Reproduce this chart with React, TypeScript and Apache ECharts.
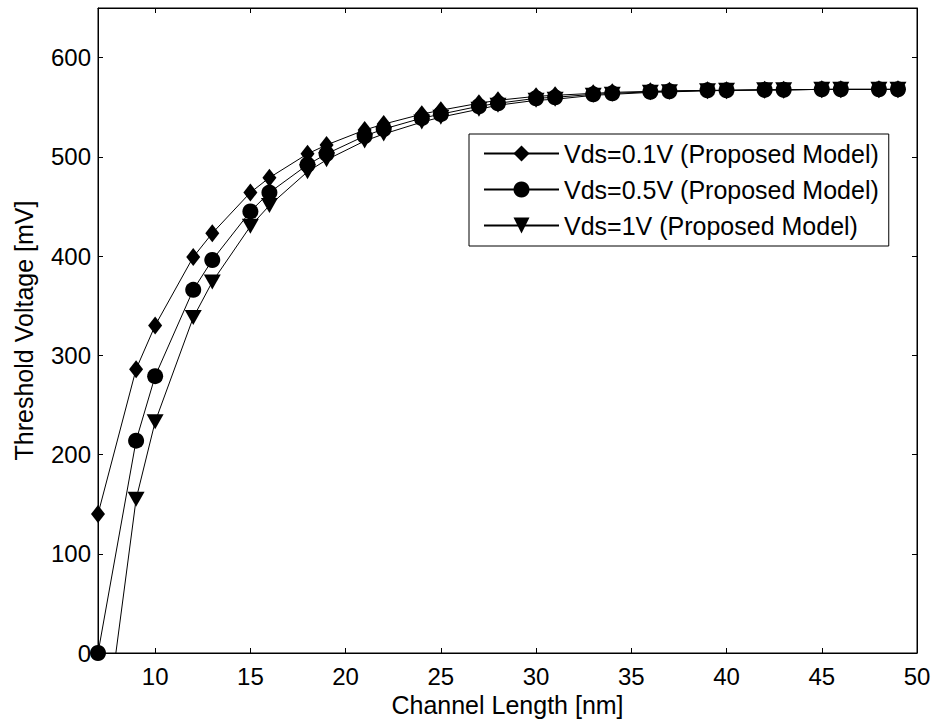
import React, { useEffect, useRef } from "react";
import * as echarts from "echarts";

const channelLength = [7, 9, 10, 12, 13, 15, 16, 18, 19, 21, 22, 24, 25, 27, 28, 30, 31, 33, 34, 36, 37, 39, 40, 42, 43, 45, 46, 48, 49];
const vds01 = [140, 286, 330, 399, 423, 464, 479, 503, 512, 527, 533, 543, 547, 554, 557, 561, 562, 564, 565, 566, 566.5, 567, 567, 567.5, 567.5, 568, 568, 568, 568];
const vds05 = [0, 214, 279, 366, 396, 445, 464, 492, 503, 521, 528, 539, 543, 551, 554, 559, 560, 563, 564, 565.5, 566, 567, 567, 567.5, 567.5, 568, 568, 568, 568];
const vds1 = [-137, 155, 233, 338, 374, 430, 451, 485, 497, 516, 523, 535, 540, 548, 552, 557, 558, 562, 563, 565, 565.5, 566.5, 567, 567.5, 567.5, 568, 568, 568, 568];

const xTicks = [10, 15, 20, 25, 30, 35, 40, 45, 50];
const yTicks = [0, 100, 200, 300, 400, 500, 600];
const seriesNames = ["Vds=0.1V (Proposed Model)", "Vds=0.5V (Proposed Model)", "Vds=1V (Proposed Model)"];

const FONT = "'Liberation Sans', Arial, sans-serif";

export default function App() {
  const ref = useRef<HTMLDivElement>(null);
  useEffect(() => {
    if (!ref.current) return;
    const chart = echarts.init(ref.current, undefined, { renderer: "svg" });
    const mk = (vals: number[]) => channelLength.map((x, i) => [x, vals[i]]);
    const lineBase = {
      type: "line",
      clip: true,
      lineStyle: { color: "#000", width: 1 },
      itemStyle: { color: "#000" },
      emphasis: { disabled: true },
    };
    const tickStyle = { inside: true, length: 5, lineStyle: { color: "#000", width: 1 } };
    chart.setOption({
      animation: false,
      backgroundColor: "#fff",
      textStyle: { fontFamily: FONT },
      grid: {
        left: 98,
        right: 21,
        top: 8,
        bottom: 73,
        show: true,
        borderColor: "#000",
        borderWidth: 1,
        backgroundColor: "transparent",
      },
      legend: {
        orient: "vertical",
        left: 469,
        top: 134,
        data: seriesNames,
        itemWidth: 75,
        itemHeight: 20,
        itemGap: 11,
        padding: [7, 10, 8, 14],
        borderColor: "#000",
        borderWidth: 1,
        backgroundColor: "#fff",
        textStyle: { fontFamily: FONT, fontSize: 25, color: "#000" },
        selectedMode: false,
      },
      xAxis: [
        {
          type: "value",
          min: 7,
          max: 50,
          name: "Channel Length [nm]",
          nameLocation: "middle",
          nameGap: 35,
          nameTextStyle: { fontFamily: FONT, fontSize: 25, color: "#000" },
          axisLine: { show: true, onZero: false, lineStyle: { color: "#000", width: 1 } },
          axisTick: { ...tickStyle, customValues: xTicks },
          axisLabel: { customValues: xTicks, fontFamily: FONT, fontSize: 24, color: "#000", margin: 11 },
          splitLine: { show: false },
        },
        {
          type: "value",
          position: "top",
          min: 7,
          max: 50,
          axisLine: { show: true, onZero: false, lineStyle: { color: "#000", width: 1 } },
          axisTick: { ...tickStyle, customValues: xTicks },
          axisLabel: { show: false },
          splitLine: { show: false },
        },
      ],
      yAxis: [
        {
          type: "value",
          min: 0,
          max: 650,
          name: "Threshold Voltage [mV]",
          nameLocation: "middle",
          nameGap: 62,
          nameTextStyle: { fontFamily: FONT, fontSize: 25, color: "#000" },
          axisLine: { show: true, onZero: false, lineStyle: { color: "#000", width: 1 } },
          axisTick: { ...tickStyle, customValues: yTicks },
          axisLabel: { customValues: yTicks, fontFamily: FONT, fontSize: 24, color: "#000", margin: 7 },
          splitLine: { show: false },
        },
        {
          type: "value",
          position: "right",
          min: 0,
          max: 650,
          axisLine: { show: true, onZero: false, lineStyle: { color: "#000", width: 1 } },
          axisTick: { ...tickStyle, customValues: yTicks },
          axisLabel: { show: false },
          splitLine: { show: false },
        },
      ],
      series: [
        { ...lineBase, name: seriesNames[0], data: mk(vds01), symbol: "diamond", symbolSize: [14, 18], z: 3 },
        { ...lineBase, name: seriesNames[1], data: mk(vds05), symbol: "circle", symbolSize: 16, z: 2 },
        { ...lineBase, name: seriesNames[2], data: mk(vds1), symbol: "triangle", symbolRotate: 180, symbolSize: [17, 15], z: 1 },
      ],
    });
    return () => chart.dispose();
  }, []);
  return <div ref={ref} style={{ position: "fixed", left: 0, top: 0, width: 938, height: 726 }} />;
}
